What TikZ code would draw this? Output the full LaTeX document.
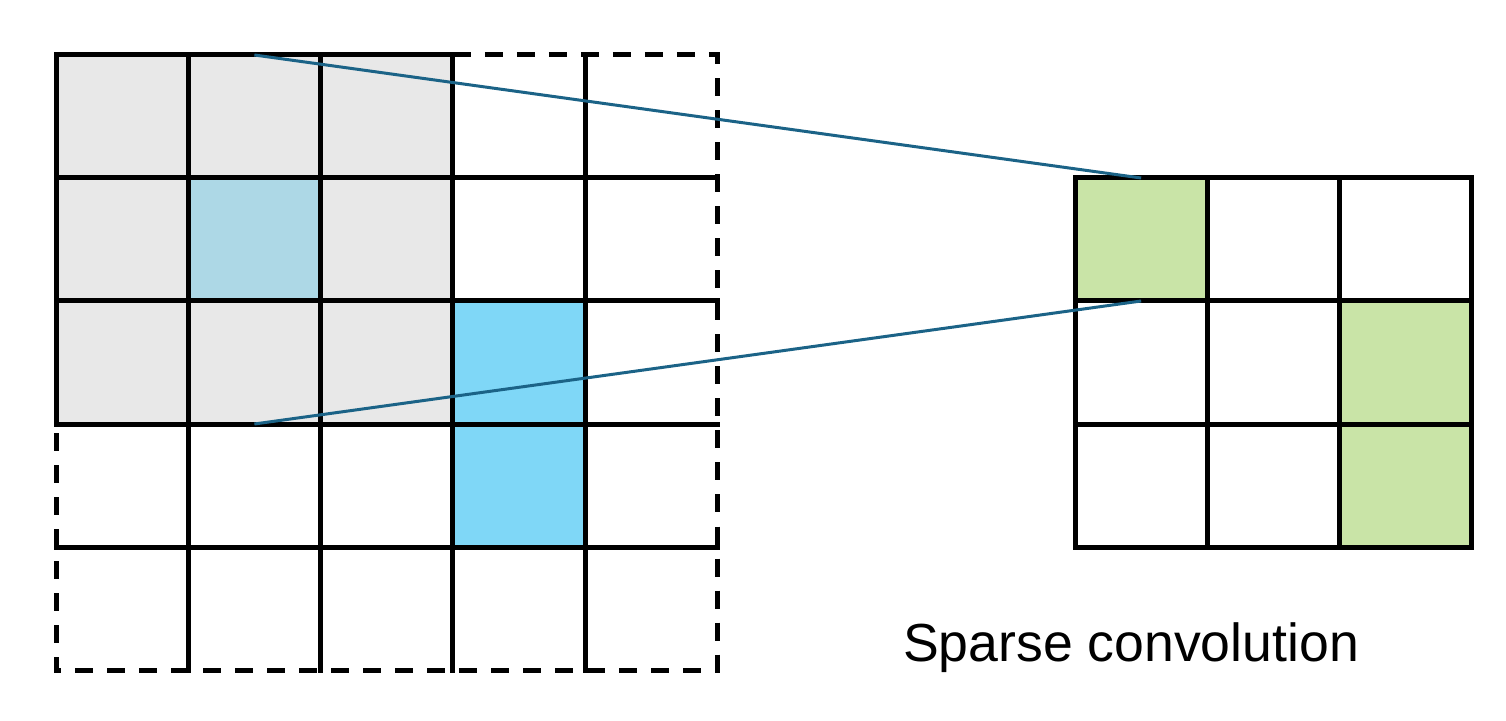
\documentclass[tikz,border=0pt]{standalone}
\usepackage{fontspec}
\setmainfont{Liberation Sans}
\usetikzlibrary{positioning}

\definecolor{padgray}{HTML}{E8E8E8}
\definecolor{sitelight}{HTML}{ADD8E6}
\definecolor{sitesky}{HTML}{7FD7F7}
\definecolor{outgreen}{HTML}{C9E4A7}
\definecolor{linkblue}{HTML}{1B6387}

\begin{document}
\begin{tikzpicture}
	[cell/.style={minimum width=2.645cm, minimum height=2.46cm, inner sep=0pt, outer sep=0pt},
	 gridline/.style={line width=0.1cm, line cap=rect},
	 dashline/.style={line width=0.1cm, dash pattern=on 0.36cm off 0.28cm},
	 link/.style={linkblue, line width=0.06cm}]
   \useasboundingbox (0,0) rectangle (30.12,14.4);
   % input grid with padding
   \foreach \i in {0,...,4}
     \foreach \j in {0,...,4}
       \node[cell] (L-\i-\j) at ({1.12+2.645*(\j+0.5)},{13.3-2.46*(\i+0.5)}) {};
   \fill[padgray] (L-0-0.north west) rectangle (L-2-2.south east);
   \fill[sitelight] (L-1-1.north west) rectangle (L-1-1.south east);
   \fill[sitesky] (L-2-3.north west) rectangle (L-3-3.south east);
   \foreach \k in {1,...,4} {
     \draw[gridline] (L-0-\k.north west) -- (L-4-\k.south west);
     \draw[gridline] (L-\k-0.north west) -- (L-\k-4.north east);
   }
   \draw[gridline] (L-3-0.north west) -- (L-0-0.north west) -- (L-0-3.north west);
   \draw[dashline] (L-0-3.north west) -- (L-0-4.north east) -- (L-4-4.south east)
       -- (L-4-0.south west) -- (L-3-0.north west);
   % output grid
   \foreach \i in {0,...,2}
     \foreach \j in {0,...,2}
       \node[cell] (R-\i-\j) at ({21.5+2.645*(\j+0.5)},{10.84-2.46*(\i+0.5)}) {};
   \fill[outgreen] (R-0-0.north west) rectangle (R-0-0.south east);
   \fill[outgreen] (R-1-2.north west) rectangle (R-2-2.south east);
   \draw[gridline] (R-0-0.north west) rectangle (R-2-2.south east);
   \foreach \k in {1,2} {
     \draw[gridline] (R-0-\k.north west) -- (R-2-\k.south west);
     \draw[gridline] (R-\k-0.north west) -- (R-\k-2.north east);
   }
   % receptive field links
   \draw[link] (L-0-1.north) -- (R-0-0.north);
   \draw[link] (L-2-1.south) -- (R-0-0.south);
   \node[font=\fontsize{30.5}{36}\selectfont] (title) at (22.62,1.45) {Sparse convolution};
\end{tikzpicture}
\end{document}
